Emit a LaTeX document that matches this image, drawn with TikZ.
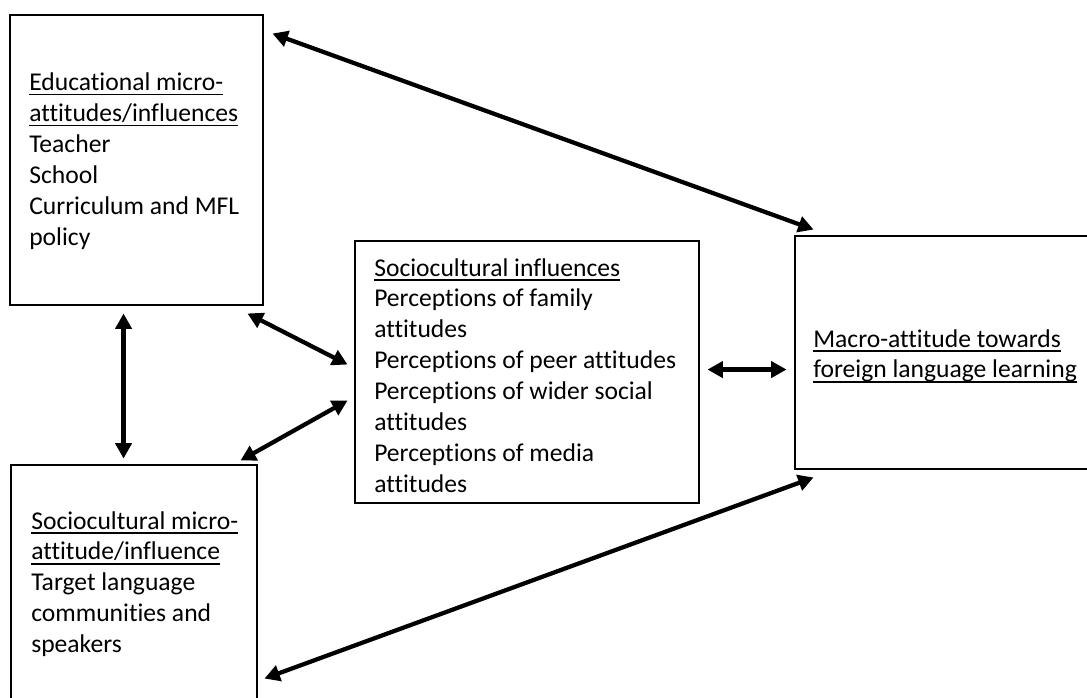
\documentclass[tikz,border=0pt]{standalone}
\usepackage{fontspec}
\setmainfont[Ligatures={NoCommon}]{Carlito}
\usetikzlibrary{arrows.meta,calc,fit}
% underline sits just under the baseline, crossing descenders
\newcommand\ulined[1]{\setbox0\hbox{#1}\rlap{\rule[-3.6pt]{\wd0}{1pt}}\box0}
% left-aligned block whose baseline is that of its first line
\newcommand\lineblock[1]{\begin{tabular}[t]{@{}l@{}}#1\end{tabular}}

\begin{document}
\begin{tikzpicture}[x=0.75pt,y=-0.75pt,
  box/.style={draw,line width=2.2pt,inner sep=0pt},
  txt/.style={anchor=base west,inner sep=0pt,font=\fontsize{19.2}{23.2}\selectfont},
  link/.style={line width=3.2pt,
    {Triangle[length=11.5pt,width=12pt]}-{Triangle[length=11.5pt,width=12pt]}}]
\clip (0,0) rectangle (1087,697);

% boxes
\node[box,fit={(10,15)(263,305)}] (edu) {};
\node[box,fit={(355,241)(699,503)}] (soc) {};
\node[box,fit={(11,465)(257,720)}] (tl) {};
\node[box,fit={(795,236)(1100,469)}] (mac) {};

% box texts
\node[txt] (edutxt) at (29,90.5) {\lineblock{\ulined{Educational micro-}\\\ulined{attitudes/influences}\\Teacher\\School\\Curriculum and MFL\\policy}};
\node[txt] (soctxt) at (374,276) {\lineblock{\ulined{Sociocultural influences}\\Perceptions of family\\attitudes\\Perceptions of peer attitudes\\Perceptions of wider social\\attitudes\\Perceptions of media\\attitudes}};
\node[txt] (tltxt) at (31,529) {\lineblock{\ulined{Sociocultural micro-}\\\ulined{attitude/influence}\\Target language\\communities and\\speakers}};
\node[txt] (mactxt) at (813,347) {\lineblock{\ulined{Macro-attitude towards}\\\ulined{foreign language learning}}};

% two-way links
\draw[link] ($(edu.north east)+(8,20)$) -- ($(mac.north west)+(20,-5)$);
\draw[link] ($(edu.south west)+(115,7)$) -- ($(tl.north west)+(114,-5)$);
\draw[link] ($(edu.south east)+(-17,7)$) -- ($(soc.north west)+(-6,125)$);
\draw[link] ($(soc.north west)+(-6,161)$) -- ($(tl.north east)+(-18,-3)$);
\draw[link] ($(soc.north east)+(7,130)$) -- ($(mac.north west)+(-7,135)$);
\draw[link] ($(tl.north east)+(6,215)$) -- ($(mac.south west)+(20,7)$);
\end{tikzpicture}
\end{document}
